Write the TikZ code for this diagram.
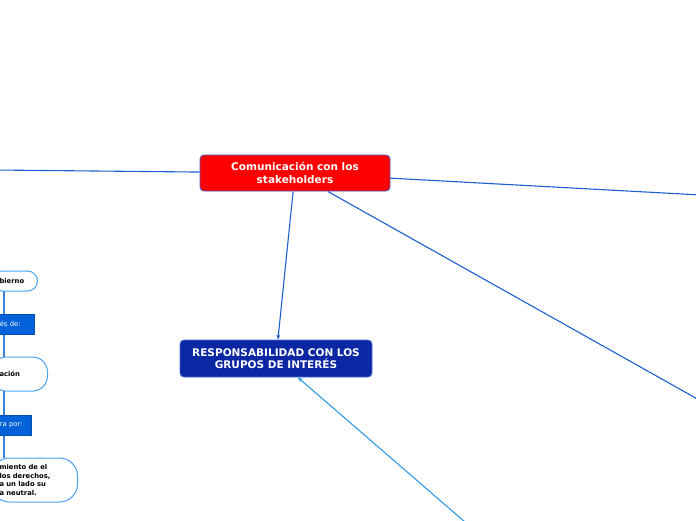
\documentclass[tikz,border=0pt]{standalone}
\usepackage{fontspec}
\setmainfont{DejaVu Sans}
\usetikzlibrary{arrows.meta,backgrounds}
\definecolor{linkblue}{RGB}{28,95,208}
\definecolor{linklight}{RGB}{46,155,227}
\definecolor{spineblue}{RGB}{58,127,220}
\definecolor{pillblue}{RGB}{74,163,238}
\definecolor{tagblue}{RGB}{0,97,216}
\definecolor{mainred}{RGB}{255,0,0}
\definecolor{mainedge}{RGB}{70,90,200}
\definecolor{respblue}{RGB}{11,39,163}
\definecolor{respedge}{RGB}{74,111,216}

\begin{document}
\begin{tikzpicture}[x=1pt,y=-1pt,
  topic/.style={rounded corners=4pt, line width=0.8pt, text=white, align=center,
    font=\bfseries\fontsize{10.5}{12.5}\selectfont, minimum width=190pt, minimum height=36pt},
  pill/.style={draw=pillblue, fill=white, line width=1pt, rounded corners=10pt, anchor=east,
    inner xsep=8pt, inner ysep=0pt, align=left, font=\bfseries\fontsize{6.8}{8.7}\selectfont},
  tag/.style={fill=tagblue, draw=tagblue!80!black, line width=0.4pt, anchor=east, text=white,
    inner xsep=8pt, inner ysep=0pt, align=left, minimum height=20pt, font=\fontsize{6.8}{8}\selectfont},
  link/.style={draw=linkblue, line width=1.1pt},
  tip/.style={-{Stealth[length=5pt,width=4pt]}}]
\useasboundingbox (0,0) rectangle (696,520);

\node[topic, fill=mainred, draw=mainedge] (main) at (295,173) {Comunicación con los\\stakeholders};
\node[topic, fill=respblue, draw=respedge, minimum width=192pt, minimum height=37pt] (resp) at (276,358.5) {RESPONSABILIDAD CON LOS\\GRUPOS DE INTERÉS};

\coordinate (offleft) at (-5,170);
\coordinate (offright) at (701,195);
\coordinate (offlow) at (701,401);
\coordinate (offbottom) at (465,522);
\coordinate (spinex) at (4,0);

\draw[link] (main) -- (offleft);
\draw[link] (main) -- (offright);
\draw[link] (main) -- (offlow);
\draw[link, tip] (main) -- (resp);
\draw[link, draw=linklight, tip] (offbottom) -- (resp);

\node[pill, minimum height=20pt, text width=30pt] (gob) at (38,281) {bierno};
\node[tag, text width=26pt] (via) at (34,324) {és de:};
\node[pill, minimum height=34pt, rounded corners=15pt, text width=40pt] (com) at (48,374) {ación};
\node[tag, text width=23pt] (por) at (31,425) {ra por:};
\node[pill, minimum height=44pt, rounded corners=18pt, text width=70pt] (cum) at (78,480)
  {miento de el\\ los derechos,\\a un lado su\\a neutral.};

\begin{scope}[on background layer]
\draw[draw=spineblue, line width=1.6pt] ([yshift=-3pt]gob.north -| spinex) -- (cum.north -| spinex);
\end{scope}
\end{tikzpicture}
\end{document}
